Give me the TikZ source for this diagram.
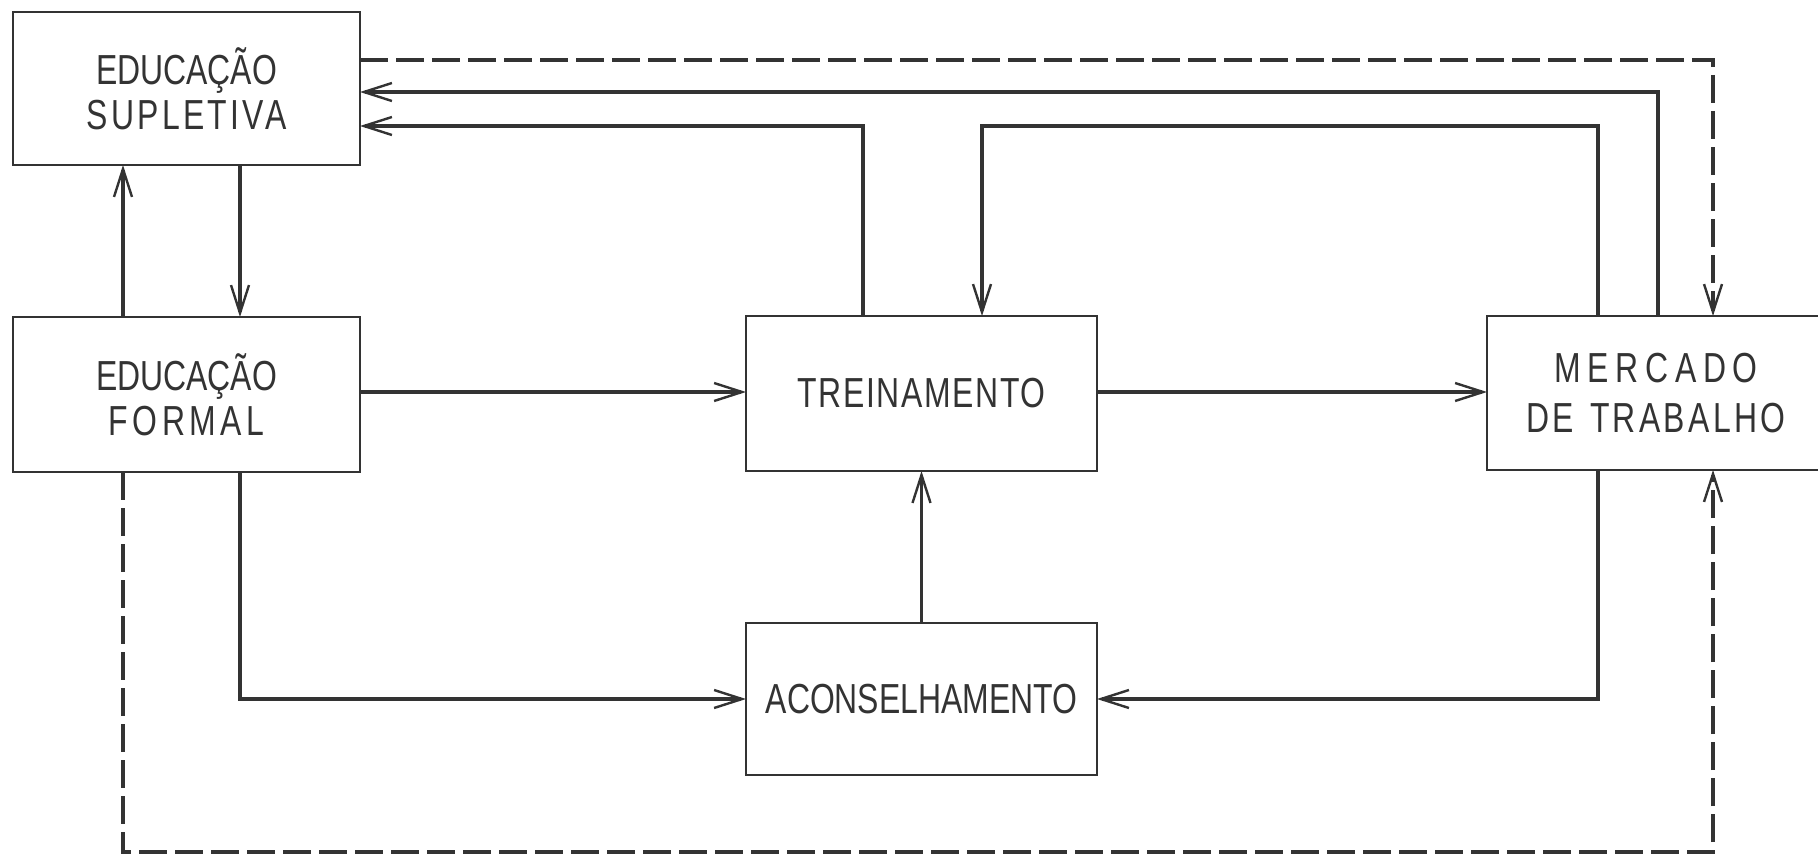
\documentclass[tikz,border=0pt]{standalone}
\usepackage{fontspec}
\usetikzlibrary{arrows.meta}
\newfontfamily\lf{Liberation Sans}[FakeStretch=0.76]
\newfontfamily\lfs{Liberation Sans}[FakeStretch=0.76,LetterSpace=8]
\definecolor{ink}{HTML}{333333}
\tikzset{
  blk/.style={draw=ink,line width=1.4pt,inner sep=0pt,outer sep=0pt,align=center,text=ink,
    font=\lf\fontsize{21}{22.5}\selectfont},
  arr/.style={draw=ink,line width=1.6pt,-{Straight Barb[length=14pt,width=9pt,line width=1.2pt]}},
  dsh/.style={dash pattern=on 14pt off 4pt}
}
\begin{document}
\begin{tikzpicture}[x=0.5pt,y=-0.5pt]
\clip (0,0) rectangle (1818,856);
\fill[white] (0,0) rectangle (1818,856);
\node[blk,minimum width=173.5pt,minimum height=76.5pt] (sup) at (186.5,88.5) {EDUCAÇÃO\\{\lfs SUPLETIVA}};
\node[blk,minimum width=173.5pt,minimum height=77.5pt] (for) at (186.5,394.5) {EDUCAÇÃO\\{\addfontfeature{LetterSpace=11}FORMAL}};
\node[blk,minimum width=175.5pt,minimum height=77.5pt] (tre) at (921.5,393.5) {\addfontfeature{LetterSpace=4}TREINAMENTO};
\node[blk,minimum width=175.5pt,minimum height=76pt] (aco) at (921.5,699) {ACONSELHAMENTO};
\node[blk,minimum width=169pt,minimum height=77pt,font=\lf\fontsize{21}{25}\selectfont] (mer) at (1656,393) {{\addfontfeature{LetterSpace=16}MERCADO}\\{\addfontfeature{LetterSpace=8}DE\hspace{8pt}TRABALHO}};
\coordinate (c1) at (123,0);
\coordinate (c2) at (240,0);
\coordinate (c3) at (863,0);
\coordinate (c4) at (982,0);
\coordinate (c5) at (1598,0);
\coordinate (c6) at (1658,0);
\coordinate (c7) at (1713,0);
\coordinate (yA) at (0,60);
\coordinate (yB) at (0,92);
\coordinate (yC) at (0,126);
\coordinate (yD) at (0,699);
\coordinate (yE) at (0,852);
\coordinate (yF) at (0,392);
\draw[arr] (for.north -| c1) -- (sup.south -| c1);
\draw[arr] (sup.south -| c2) -- (for.north -| c2);
\draw[arr] (for.east |- yF) -- (tre.west |- yF);
\draw[arr] (tre.east |- yF) -- (mer.west |- yF);
\draw[arr] (aco.north) -- (tre.south);
\draw[arr] (for.south -| c2) -- (c2 |- yD) -- (aco.west |- yD);
\draw[arr] (mer.south -| c5) -- (c5 |- yD) -- (aco.east |- yD);
\draw[arr] (tre.north -| c3) -- (c3 |- yC) -- (sup.east |- yC);
\draw[arr] (mer.north -| c6) -- (c6 |- yB) -- (sup.east |- yB);
\draw[arr] (mer.north -| c5) -- (c5 |- yC) -- (c4 |- yC) -- (tre.north -| c4);
\draw[arr,dsh] (sup.east |- yA) -- (c7 |- yA) -- (mer.north -| c7);
\draw[arr,dsh] (for.south -| c1) -- (c1 |- yE) -- (c7 |- yE) -- (mer.south -| c7);
\end{tikzpicture}
\end{document}
